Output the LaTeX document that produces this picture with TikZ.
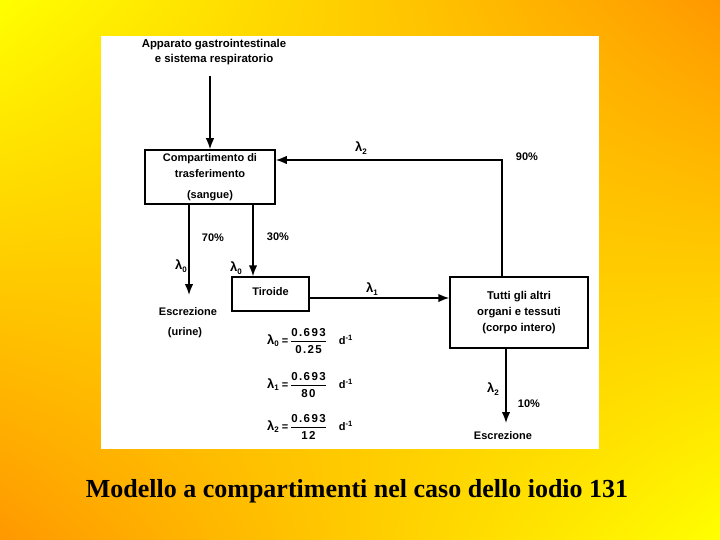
\documentclass[tikz,border=0pt]{standalone}
\usepackage{fontspec}
\usepackage{amsmath}
\setmainfont{Liberation Serif}
\newfontfamily\diagfont{Liberation Sans}
\usetikzlibrary{arrows.meta,shadings}
\definecolor{bgyellow}{RGB}{255,255,0}
\definecolor{bgorange}{RGB}{255,152,0}
\newcommand{\lam}[1]{{\fontsize{13}{14}\selectfont λ}{\fontsize{8}{9}\selectfont\raisebox{-2.5pt}{#1}}}
\newcommand{\wide}[1]{{\fontsize{11.5}{13}\selectfont\addfontfeature{LetterSpace=12}#1}}
\begin{document}
\begin{tikzpicture}[x=1pt,y=-1pt,
  every node/.style={font=\diagfont\bfseries\fontsize{11}{12}\selectfont, inner sep=0pt},
  boxst/.style={draw, line width=1.5pt, align=center},
  arr/.style={line width=1.5pt, -{Latex[length=11pt,width=8.5pt]}},
  lbl/.style={}]
\useasboundingbox (0,0) rectangle (720,540);
\shade[upper left=bgyellow, upper right=bgorange, lower left=bgorange, lower right=bgyellow] (0,0) rectangle (720,540);
\fill[white] (101,36) rectangle (599,449);

% nodes
\node[align=center, font=\diagfont\bfseries\fontsize{11.4}{15}\selectfont] (src) at (214,52) {Apparato gastrointestinale\\e sistema respiratorio};
\node[boxst, minimum width=130pt, minimum height=54pt, font=\diagfont\bfseries\fontsize{11}{16}\selectfont] (blood) at (210,177) {Compartimento di\\trasferimento\\[5pt](sangue)};
\node[boxst, minimum width=77pt, minimum height=34pt] (thy) at (270.5,294) {\raisebox{5pt}{Tiroide}};
\node[boxst, minimum width=138pt, minimum height=71pt, font=\diagfont\bfseries\fontsize{11.3}{16}\selectfont] (body) at (519,312.5) {Tutti gli altri\\organi e tessuti\\(corpo intero)};

\node[lbl] (escr1) at (188,312) {Escrezione};
\node[lbl] (urine) at (185,333) {(urine)};
\node[lbl] (escr2) at (503,436) {Escrezione};

% helper coordinates
\coordinate (e1) at (189,295);
\coordinate (c30) at (253,0);
\coordinate (l1y) at (0,298);
\coordinate (corner) at (502,160);
\coordinate (e2) at (506,423);

% connectors
\draw[arr] ([yshift=-11pt]src.south -| blood.north) -- (blood.north);
\draw[arr] (blood.south -| e1) -- (e1);
\draw[arr] (blood.south -| c30) -- (thy.north -| c30);
\draw[arr] (thy.east |- l1y) -- (body.west |- l1y);
\draw[arr] (body.north -| corner) -- (corner) -- (blood.east |- corner);
\draw[arr] (body.south -| e2) -- (e2);

% labels
\node[lbl] (p70) at (213,238) {70\%};
\node[lbl] (p30) at (278,237) {30\%};
\node[lbl] (l0a) at (181,266) {\lam0};
\node[lbl] (l0b) at (236,268) {\lam0};
\node[lbl] (l1) at (372,289) {\lam1};
\node[lbl] (l2a) at (361,148) {\lam2};
\node[lbl] (p90) at (527,157) {90\%};
\node[lbl] (l2b) at (493,389) {\lam2};
\node[lbl] (p10) at (529,404) {10\%};

% equations
\node[anchor=west] (eq0) at (267,341) {\lam0 =\,$\genfrac{}{}{1pt}{0}{\hbox{\wide{0.693}}}{\hbox{\wide{0.25}}}$\hspace{12pt}d\textsuperscript{-1}};
\node[anchor=west] (eq1) at (267,385) {\lam1 =\,$\genfrac{}{}{1pt}{0}{\hbox{\wide{0.693}}}{\hbox{\wide{80}}}$\hspace{12pt}d\textsuperscript{-1}};
\node[anchor=west] (eq2) at (267,427) {\lam2 =\,$\genfrac{}{}{1pt}{0}{\hbox{\wide{0.693}}}{\hbox{\wide{12}}}$\hspace{12pt}d\textsuperscript{-1}};

% caption
\node[anchor=base, font=\rmfamily\bfseries\fontsize{26}{30}\selectfont] (cap) at (357,497) {Modello a compartimenti nel caso dello iodio 131};
\end{tikzpicture}
\end{document}
